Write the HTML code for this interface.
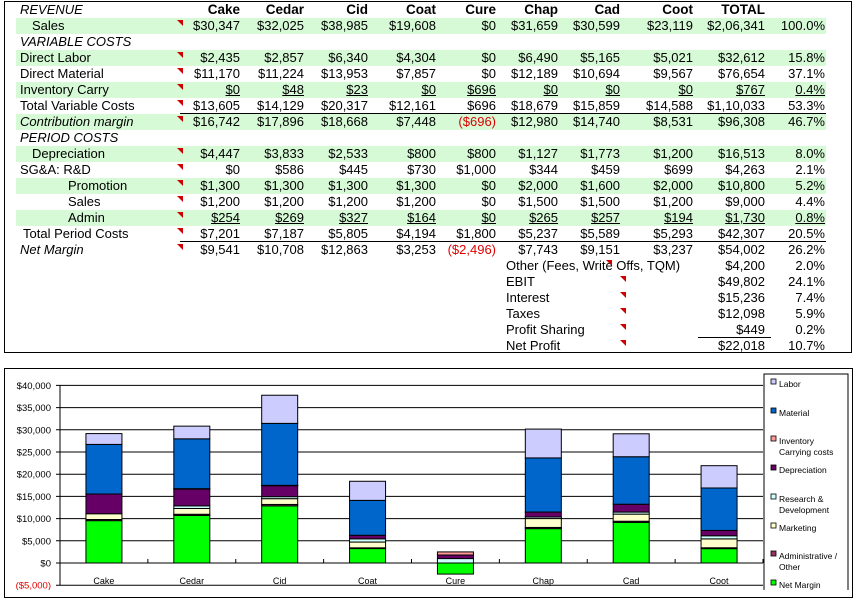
<!DOCTYPE html>
<html><head><meta charset="utf-8"><style>
body{margin:0;width:857px;height:590px;overflow:hidden;background:#fff;font-family:"Liberation Sans",Arial,sans-serif;position:relative}
#tbl{position:absolute;left:4px;top:1px;width:848px;height:352px;border:1px solid #000;box-sizing:border-box}
.c{position:absolute;font-size:13px;line-height:16px;white-space:nowrap}
.r{text-align:right}
.g{position:absolute;left:16px;width:810px;height:16px;background:#d6fad6}
.tri{position:absolute;width:0;height:0;border-top:6px solid #d00000;border-left:6px solid transparent}
#chart{position:absolute;left:4px;top:368px;width:849px;height:230px;border:1px solid #000;box-sizing:border-box}
</style></head><body>
<div id="tbl"></div>
<div id="chart"></div>
<svg id="svg" width="857" height="590" style="position:absolute;left:0;top:0"></svg>
<script>
// ---- table ----
const cols=["Cake","Cedar","Cid","Coat","Cure","Chap","Cad","Coot","TOTAL",""];
const colRight=[240,304,368,436,496,558,620,693,765,825];
const rows=[
 ["REVENUE","i",0,null],
 ["Sales","",32,["$30,347","$32,025","$38,985","$19,608","$0","$31,659","$30,599","$23,119","$2,06,341","100.0%"]],
 ["VARIABLE COSTS","i",0,null],
 ["Direct Labor","",0,["$2,435","$2,857","$6,340","$4,304","$0","$6,490","$5,165","$5,021","$32,612","15.8%"]],
 ["Direct Material","",0,["$11,170","$11,224","$13,953","$7,857","$0","$12,189","$10,694","$9,567","$76,654","37.1%"]],
 ["Inventory Carry","u",0,["$0","$48","$23","$0","$696","$0","$0","$0","$767","0.4%"]],
 ["Total Variable Costs","",0,["$13,605","$14,129","$20,317","$12,161","$696","$18,679","$15,859","$14,588","$1,10,033","53.3%"]],
 ["Contribution margin","i",0,["$16,742","$17,896","$18,668","$7,448","($696)","$12,980","$14,740","$8,531","$96,308","46.7%"]],
 ["PERIOD COSTS","i",0,null],
 ["Depreciation","",32,["$4,447","$3,833","$2,533","$800","$800","$1,127","$1,773","$1,200","$16,513","8.0%"]],
 ["SG&A:  R&D","",0,["$0","$586","$445","$730","$1,000","$344","$459","$699","$4,263","2.1%"]],
 ["Promotion","",68,["$1,300","$1,300","$1,300","$1,300","$0","$2,000","$1,600","$2,000","$10,800","5.2%"]],
 ["Sales","",68,["$1,200","$1,200","$1,200","$1,200","$0","$1,500","$1,500","$1,200","$9,000","4.4%"]],
 ["Admin","u",68,["$254","$269","$327","$164","$0","$265","$257","$194","$1,730","0.8%"]],
 ["Total Period Costs","",23,["$7,201","$7,187","$5,805","$4,194","$1,800","$5,237","$5,589","$5,293","$42,307","20.5%"]],
 ["Net Margin","i",0,["$9,541","$10,708","$12,863","$3,253","($2,496)","$7,743","$9,151","$3,237","$54,002","26.2%"]]
];
const lower=[["Other (Fees, Write Offs, TQM)","$4,200","2.0%"],["EBIT","$49,802","24.1%"],["Interest","$15,236","7.4%"],["Taxes","$12,098","5.9%"],["Profit Sharing","$449","0.2%"],["Net Profit","$22,018","10.7%"]];
function add(html,cls,style,name){const d=document.createElement('div');d.className=cls;d.setAttribute('style',style);d.innerHTML=html;


document.body.appendChild(d);return d;}
[1,3,5,7,9,11,13].forEach(i=>add('','g','top:'+(2+16*i)+'px','row-band'));
cols.forEach((c,j)=>{if(c)add('<b>'+c+'</b>','c r','top:2px;right:'+(857-colRight[j])+'px;font-size:13.5px','column-header');});
rows.forEach((r,i)=>{const y=2+16*i;
 add(r[1]=='i'?'<i>'+r[0]+'</i>':r[0],'c','top:'+y+'px;left:'+(20+(r[2]?r[2]-20:0))+'px','row-label');
 if(r[3]){add('','tri','top:'+(y+2)+'px;left:177px','comment-marker');
  r[3].forEach((v,j)=>{let s='top:'+y+'px;right:'+(857-colRight[j])+'px';if(v.startsWith('('))s+=';color:#e00000';
   add(r[1]=='u'?'<u>'+v+'</u>':v,'c r',s,'cell-value');});}
});
lower.forEach((r,i)=>{const y=2+16*(16+i);
 add(r[0],'c','top:'+y+'px;left:506px','summary-label');
 add('','tri','top:'+(y+2)+'px;left:'+(i==0?606:620)+'px','comment-marker');
 add(r[1],'c r','top:'+y+'px;right:'+(857-765)+'px','summary-value');
 add(r[2],'c r','top:'+y+'px;right:'+(857-825)+'px','summary-pct');});
add('','','position:absolute;left:180px;top:113px;width:646px;height:1px;background:#000','rule-line');
add('','','position:absolute;left:180px;top:241px;width:646px;height:1px;background:#000','rule-line');
add('','','position:absolute;left:698px;top:337px;width:73px;height:1px;background:#000','rule-line');

// ---- chart ----
const categories=["Cake","Cedar","Cid","Coat","Cure","Chap","Cad","Coot"];
const netMargin=[9541,10708,12863,3253,-2496,7743,9151,3237];
const admin=[254,269,327,164,0,265,257,194];
const marketing=[1300,1300,1300,1300,0,2000,1600,2000];
const rnd=[0,586,445,730,1000,344,459,699];
const depreciation=[4447,3833,2533,800,800,1127,1773,1200];
const inventory=[0,48,23,0,696,0,0,0];
const material=[11170,11224,13953,7857,0,12189,10694,9567];
const labor=[2435,2857,6340,4304,0,6490,5165,5021];
const yTicks=[40000,35000,30000,25000,20000,15000,10000,5000,0,-5000];
const yTickLabels=["$40,000","$35,000","$30,000","$25,000","$20,000","$15,000","$10,000","$5,000","$0","($5,000)"];
const series=[["Net Margin",netMargin,"#00ff00"],["Administrative / Other",admin,"#993366"],["Marketing",marketing,"#ffffcc"],["Research & Development",rnd,"#ccffff"],["Depreciation",depreciation,"#660066"],["Inventory Carrying costs",inventory,"#ff9999"],["Material",material,"#0066cc"],["Labor",labor,"#ccccff"]];
const svg=document.getElementById('svg');const NS="http://www.w3.org/2000/svg";
const X0=60,X1=763,Y0=563,PX=22.2/5000;
const y=v=>Y0-v*PX; const cw=(X1-X0)/categories.length; const xc=i=>X0+cw*(i+0.5);
function el(t,a,name){const e=document.createElementNS(NS,t);for(const k in a)e.setAttribute(k,a[k]);


svg.appendChild(e);return e;}
yTicks.forEach((v,i)=>{el('line',{x1:X0-4,x2:X1,y1:y(v),y2:y(v),stroke:'#000','stroke-width':1},'gridline');
 const t=el('text',{x:51,y:y(v)+3.5,'text-anchor':'end','font-size':9.5,fill:v<0?'#e00000':'#000','font-family':'Liberation Sans,Arial,sans-serif'},'y-tick-label');t.textContent=yTickLabels[i];});
el('line',{x1:X0,x2:X0,y1:y(40000),y2:y(-5000),stroke:'#000'},'y-axis');
for(let i=0;i<=categories.length;i++)el('line',{x1:X0+cw*i,x2:X0+cw*i,y1:Y0-4,y2:Y0,stroke:'#000'},'x-tick');
categories.forEach((c,i)=>{let pos=0,neg=0;
 series.forEach(s=>{const v=s[1][i];let a,b;if(v>=0){a=pos;b=pos+v;pos=b;}else{a=neg+v;b=neg;neg=a;}
  if(v===0&&s[0]!=="Net Margin")return;
  el('rect',{x:xc(i)-18,y:y(b),width:36,height:Math.max(0.5,y(a)-y(b)),fill:s[2],stroke:'#000','stroke-width':1},'bar-'+c.toLowerCase());});
 const t=el('text',{x:xc(i),y:584,'text-anchor':'middle','font-size':9,'font-family':'Liberation Sans,Arial,sans-serif'},'x-category-label');t.textContent=c;});
el('rect',{x:764,y:374,width:84,height:230,fill:'#fff',stroke:'#000'},'legend-box');
const legY=[[384],[413],[441,452],[470],[499,510],[528],[556,567],[585]];
const legOrder=[7,6,5,4,3,2,1,0];
const legTxt=[["Labor"],["Material"],["Inventory","Carrying costs"],["Depreciation"],["Research &","Development"],["Marketing"],["Administrative /","Other"],["Net Margin"]];
legOrder.forEach((si,k)=>{const yy=legY[k][0];
 el('rect',{x:771,y:yy-5,width:5,height:5,fill:series[si][2],stroke:'#000','stroke-width':0.8},'legend-swatch');
 legTxt[k].forEach((l,m)=>{const t=el('text',{x:779,y:legY[k][m]+3,'font-size':8.5,'font-family':'Liberation Sans,Arial,sans-serif'},'legend-entry');t.textContent=l;});});
</script>
</body></html>
